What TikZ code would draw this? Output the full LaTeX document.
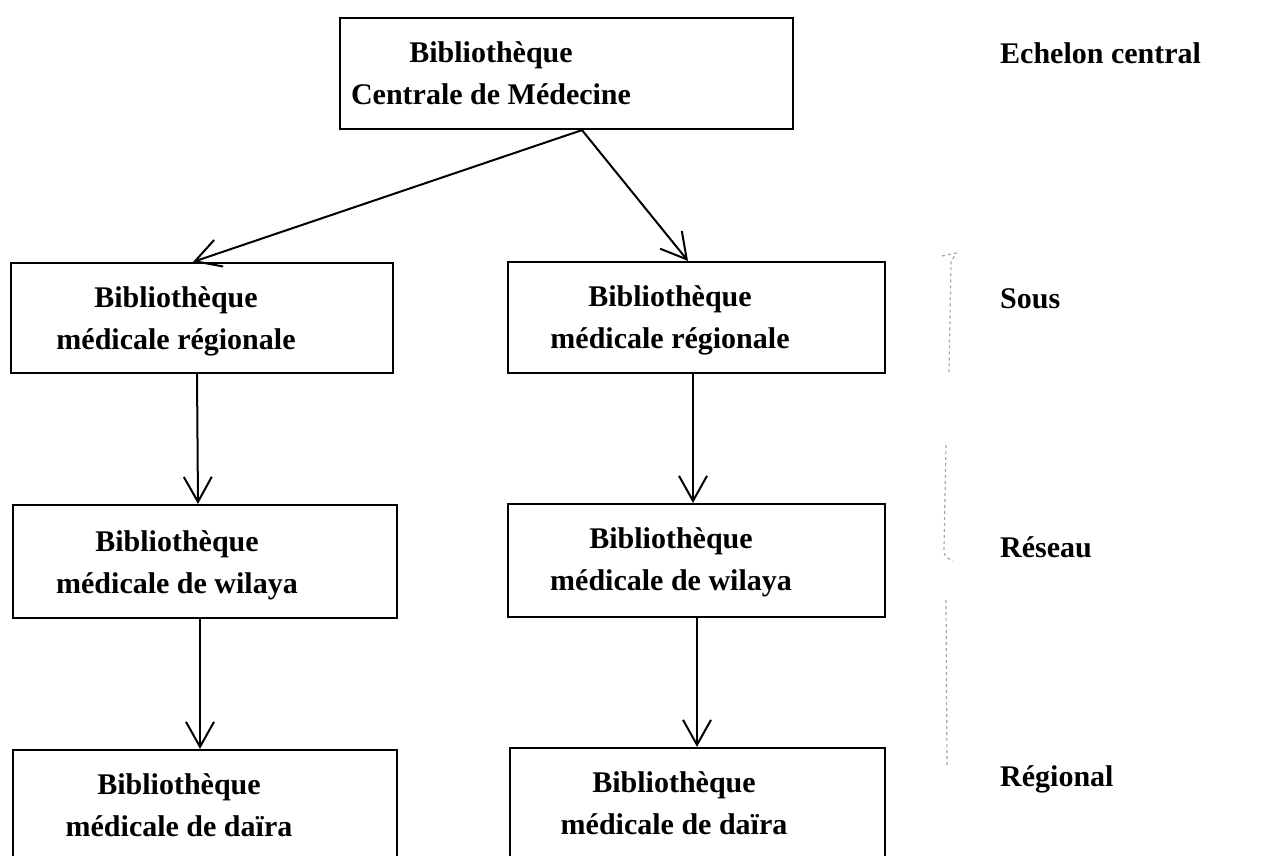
\documentclass[tikz,border=0pt]{standalone}
\usepackage{fontspec}
\setmainfont{Liberation Serif}
\usetikzlibrary{arrows.meta}
\begin{document}
\begin{tikzpicture}[x=1pt,y=-1pt,
  box/.style={draw, line width=2.2pt, inner sep=0pt},
  txt/.style={font=\fontsize{30}{42}\selectfont\bfseries, align=center, inner sep=0pt},
  level/.style={font=\fontsize{30}{42}\selectfont\bfseries, anchor=base west, inner sep=0pt},
  link/.style={line width=2pt, -{Straight Barb[length=25pt,width=28pt,line width=2pt]}},
  faint/.style={draw=black!35, line width=1.2pt, dash pattern=on 3pt off 3pt}
]
\useasboundingbox (0,0) rectangle (1270,855);

% boxes
\node[box, minimum width=453, minimum height=111] (top) at (566.5,73.5) {};
\node[box, minimum width=382, minimum height=110] (l1) at (202,318) {};
\node[box, minimum width=377, minimum height=111] (r1) at (696.5,317.5) {};
\node[box, minimum width=384, minimum height=113] (l2) at (205,561.5) {};
\node[box, minimum width=377, minimum height=113] (r2) at (696.5,560.5) {};
\node[box, minimum width=384, minimum height=116] (l4) at (205,808) {};
\node[box, minimum width=375, minimum height=118] (r4) at (697.5,807) {};

% box texts
\node[txt] (ttop) at (491,73.5) {Biblioth\`eque\\Centrale de M\'edecine};
\node[txt] (tl1) at (176,321.5) {Biblioth\`eque\\m\'edicale r\'egionale};
\node[txt] (tr1) at (670,320.5) {Biblioth\`eque\\m\'edicale r\'egionale};
\node[txt] (tl2) at (177,565.5) {Biblioth\`eque\\m\'edicale de wilaya};
\node[txt] (tr2) at (671,562) {Biblioth\`eque\\m\'edicale de wilaya};
\node[txt] (tl4) at (179,805.5) {Biblioth\`eque\\m\'edicale de da\"ira};
\node[txt] (tr4) at (674,803.5) {Biblioth\`eque\\m\'edicale de da\"ira};

% level labels
\node[level] (lv1) at (1000,63) {Echelon central};
\node[level] (lv2) at (1000,308) {Sous};
\node[level] (lv3) at (1000,557) {R\'eseau};
\node[level] (lv4) at (1000,786) {R\'egional};

% connectors
\draw[link] ([xshift=15.5pt]top.south) -- ([xshift=-9pt]l1.north);
\draw[link] ([xshift=15.5pt]top.south) -- ([xshift=-8.5pt]r1.north);
\draw[link] ([xshift=-5pt]l1.south) -- ([xshift=-7pt]l2.north);
\draw[link] ([xshift=-3.5pt]r1.south) -- ([xshift=-3.5pt]r2.north);
\draw[link] ([xshift=-5pt]l2.south) -- ([xshift=-5pt]l4.north);
\draw[link] ([xshift=0.5pt]r2.south) -- ([xshift=-0.5pt]r4.north);

% pencilled brace beside the levels
\draw[faint] (942,256) -- (956,253) -- (951,262) -- (949,372);
\draw[faint] (946,445) -- (944,548) .. controls (944,556) .. (953,561);
\draw[faint] (946,600) -- (947,765);
\end{tikzpicture}
\end{document}
